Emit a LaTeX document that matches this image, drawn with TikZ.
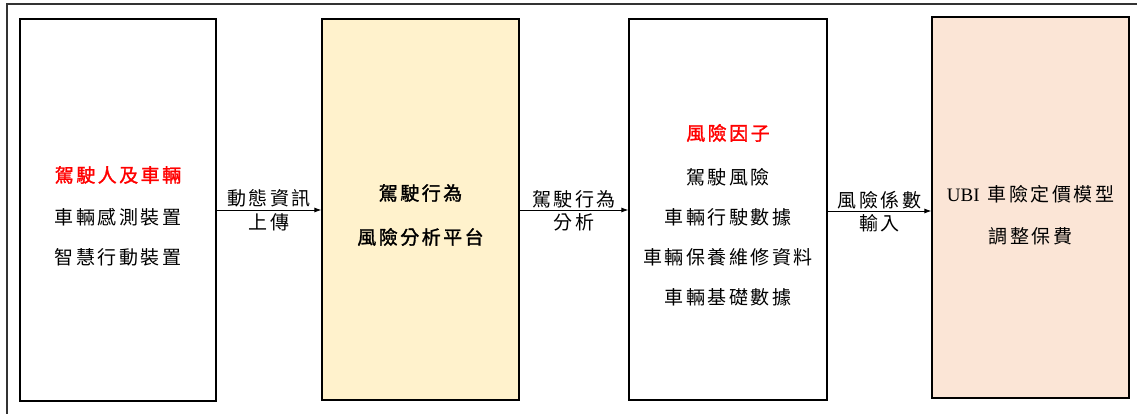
\documentclass[tikz,border=0pt]{standalone}
\usepackage{fontspec}
\setmainfont{Liberation Serif}
\newfontfamily\cjk[LetterSpace=13]{Noto Sans CJK TC}
\newfontfamily\cjkb[LetterSpace=13,FakeBold=1.5]{Noto Sans CJK TC}
\usetikzlibrary{arrows.meta}
\definecolor{yellowfill}{HTML}{FFF2CC}
\definecolor{peachfill}{HTML}{FBE5D6}
\definecolor{redtext}{HTML}{FF0000}
\tikzset{
  panel/.style={draw=black, line width=1.3pt, inner sep=0pt},
  txt/.style={font=\fontsize{19}{19}\cjk, inner sep=0pt, anchor=center},
  redtxt/.style={font=\fontsize{19}{19}\cjkb, text=redtext, inner sep=0pt, anchor=center},
  boldtxt/.style={font=\fontsize{19}{19}\cjkb, inner sep=0pt, anchor=center},
  flow/.style={draw=black, line width=0.8pt, -{Latex[length=7pt,width=5pt]}},
}
\begin{document}
\begin{tikzpicture}[x=1pt, y=-1pt]
\useasboundingbox (0,0) rectangle (1137,414);
% outer frame (only left and top are visible)
\coordinate (ftl) at (7,4);
\coordinate (fbl) at (7,420);
\coordinate (ftr) at (1140,4);
\draw[line width=1.3pt, draw=black!80] (fbl) -- (ftl) -- (ftr);
% boxes
\node[panel, fill=white, minimum width=196pt, minimum height=382pt] (b1) at (118,210) {};
\node[panel, fill=yellowfill, minimum width=197pt, minimum height=381pt] (b2) at (420.5,209.5) {};
\node[panel, fill=white, minimum width=198pt, minimum height=381pt] (b3) at (728,209.5) {};
\node[panel, fill=peachfill, minimum width=197pt, minimum height=381pt] (b4) at (1030.5,207.5) {};
% box 1 text
\node[redtxt] (t11) at (118,175) {駕駛人及車輛};
\node[txt] (t12) at (118,217) {車輛感測裝置};
\node[txt] (t13) at (118,257) {智慧行動裝置};
% box 2 text
\node[boldtxt] (t21) at (420.5,193) {駕駛行為};
\node[boldtxt] (t22) at (420.5,237) {風險分析平台};
% box 3 text
\node[redtxt] (t31) at (728,133) {風險因子};
\node[txt] (t32) at (728,177) {駕駛風險};
\node[txt] (t33) at (728,217) {車輛行駛數據};
\node[txt] (t34) at (728,257) {車輛保養維修資料};
\node[txt] (t35) at (728,297) {車輛基礎數據};
% box 4 text
\node[txt] (t41) at (1030.5,194) {{\fontsize{19}{19}\selectfont\rmfamily UBI}\hspace{8pt}車險定價模型};
\node[txt] (t42) at (1030.5,236) {調整保費};
% arrows
\draw[flow] (b1.east |- 0,210) -- (b2.west |- 0,210)
  node[txt, midway, above=2pt] (l1a) {動態資訊}
  node[txt, midway, below=3pt] (l1b) {上傳};
\draw[flow] (b2.east |- 0,210) -- (b3.west |- 0,210)
  node[txt, midway, above=2pt] (l2a) {駕駛行為}
  node[txt, midway, below=3pt] (l2b) {分析};
\draw[flow] (b3.east |- 0,211) -- (b4.west |- 0,211)
  node[txt, midway, above=2pt] (l3a) {風險係數}
  node[txt, midway, below=3pt] (l3b) {輸入};
\end{tikzpicture}
\end{document}
